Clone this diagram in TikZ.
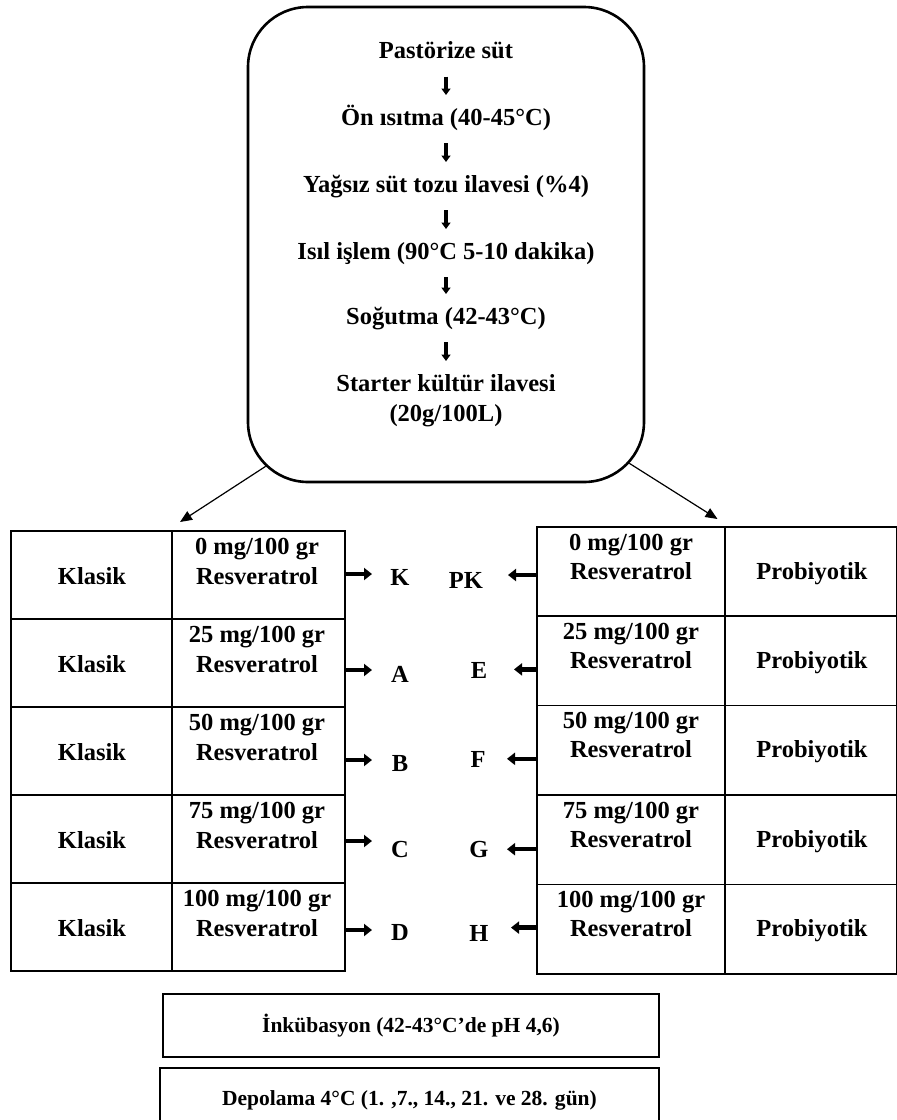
\documentclass[tikz,border=0pt]{standalone}
\usepackage{fontspec}
\setmainfont{Liberation Serif}
\usetikzlibrary{arrows.meta,calc}
\begin{document}
\begin{tikzpicture}[x=1pt,y=-1pt,
  txt/.style={font=\bfseries\fontsize{24.5}{29}\selectfont, inner sep=0pt, anchor=base},
  cell/.style={draw, line width=1.5pt, inner sep=0pt, anchor=north west},
  downarr/.style={line width=3.8pt, -{Triangle[length=6.5pt,width=9pt]}},
  fat/.style={line width=4.5pt, -{Triangle[length=8pt,width=12pt]}},
  diag/.style={line width=1.2pt, -{Triangle[length=12pt,width=10pt]}},
  stagebox/.style={draw, line width=2.5pt, inner sep=0pt, font=\bfseries\fontsize{21.5}{26}\selectfont}]
\useasboundingbox (0,0) rectangle (897,1120);
\fill[white] (0,0) rectangle (897,1120);

% process box
\node[draw, line width=2.6pt, rounded corners=60pt, minimum width=396pt, minimum height=475pt, inner sep=0pt] (proc) at (446,244.5) {};
\node[txt] (t1) at (446,58.7) {Pastörize süt\hspace{16pt}};
\node[txt] (t2) at (446,125) {Ön ısıtma (40-45°C)};
\node[txt] (t3) at (446,192) {Yağsız süt tozu ilavesi (\%4)};
\node[txt] (t4) at (446,259) {Isıl işlem (90°C 5-10 dakika)};
\node[txt] (t5) at (446,324) {Soğutma (42-43°C)};
\node[txt] (t6) at (446,391) {Starter kültür ilavesi};
\node[txt] (t7) at (446,421) {(20g/100L)};
\foreach \a/\b in {t1/t2,t2/t3,t3/t4,t4/t5,t5/t6}
  \draw[downarr] ($(\a.base)+(0,18)$) -- ($(\b.base)+(0,-30)$);

% left table
\foreach \i/\ty/\mg/\lab/\ay/\ly in {1/530/0/K/44/55, 2/618/25/A/52/64, 3/706/50/B/54/65, 4/794/75/C/47/63, 5/882/100/D/48/58} {
  \node[cell, minimum width=161pt, minimum height=88pt] (La\i) at (10,\ty) {};
  \node[cell, minimum width=173pt, minimum height=88pt] (Lb\i) at (171,\ty) {};
  \node[txt] (Lk\i) at (92,\ty+54) {Klasik};
  \node[txt] (Lm\i) at (257,\ty+24) {\mg\ mg/100 gr};
  \node[txt] (Lr\i) at (257,\ty+54) {Resveratrol};
  \node[txt] (Ll\i) at (400,\ty+\ly) {\lab};
  \coordinate (Lay\i) at (0,\ty+\ay);
  \draw[fat] (Lb\i.east |- Lay\i) -- ($(Ll\i.center |- Lay\i)+(-28,0)$);
}

% right table
\foreach \i/\ty/\mg/\lab/\ay/\ly/\lx/\off in {1/526/0/PK/49/62/466/42, 2/615.4/25/E/54/63/479/35, 3/704.8/50/F/54/63/478/29, 4/794.2/75/G/55/63/479/28, 5/883.6/100/H/44/58/479/32} {
  \node[cell, minimum width=188pt, minimum height=89.4pt] (Ra\i) at (536,\ty) {};
  \node[cell, minimum width=172pt, minimum height=89.4pt] (Rb\i) at (724,\ty) {};
  \node[txt] (Rm\i) at (631,\ty+24) {\mg\ mg/100 gr};
  \node[txt] (Rr\i) at (631,\ty+53) {Resveratrol};
  \node[txt] (Rp\i) at (812,\ty+53) {Probiyotik};
  \node[txt] (Rl\i) at (\lx,\ty+\ly) {\lab};
  \coordinate (Ray\i) at (0,\ty+\ay);
  \draw[fat] (Ra\i.west |- Ray\i) -- ($(Rl\i.center |- Ray\i)+(\off,0)$);
}

% diagonal connectors
\draw[diag] ($(proc.south west)+(19,-17)$) -- ($(Lb1.north west)+(9,-8)$);
\draw[diag] ($(proc.south east)+(-16,-20)$) -- ($(Ra1.north east)+(-8,-7)$);

% bottom boxes
\node[stagebox, minimum width=496pt, minimum height=63pt] (inc) at (411,1025.5) {İnkübasyon (42-43°C’de pH 4,6)};
\node[stagebox, minimum width=499pt, minimum height=64pt] (dep) at (409.5,1100) {Depolama 4°C (1. ,7., 14., 21. ve 28. gün)};
\end{tikzpicture}
\end{document}
